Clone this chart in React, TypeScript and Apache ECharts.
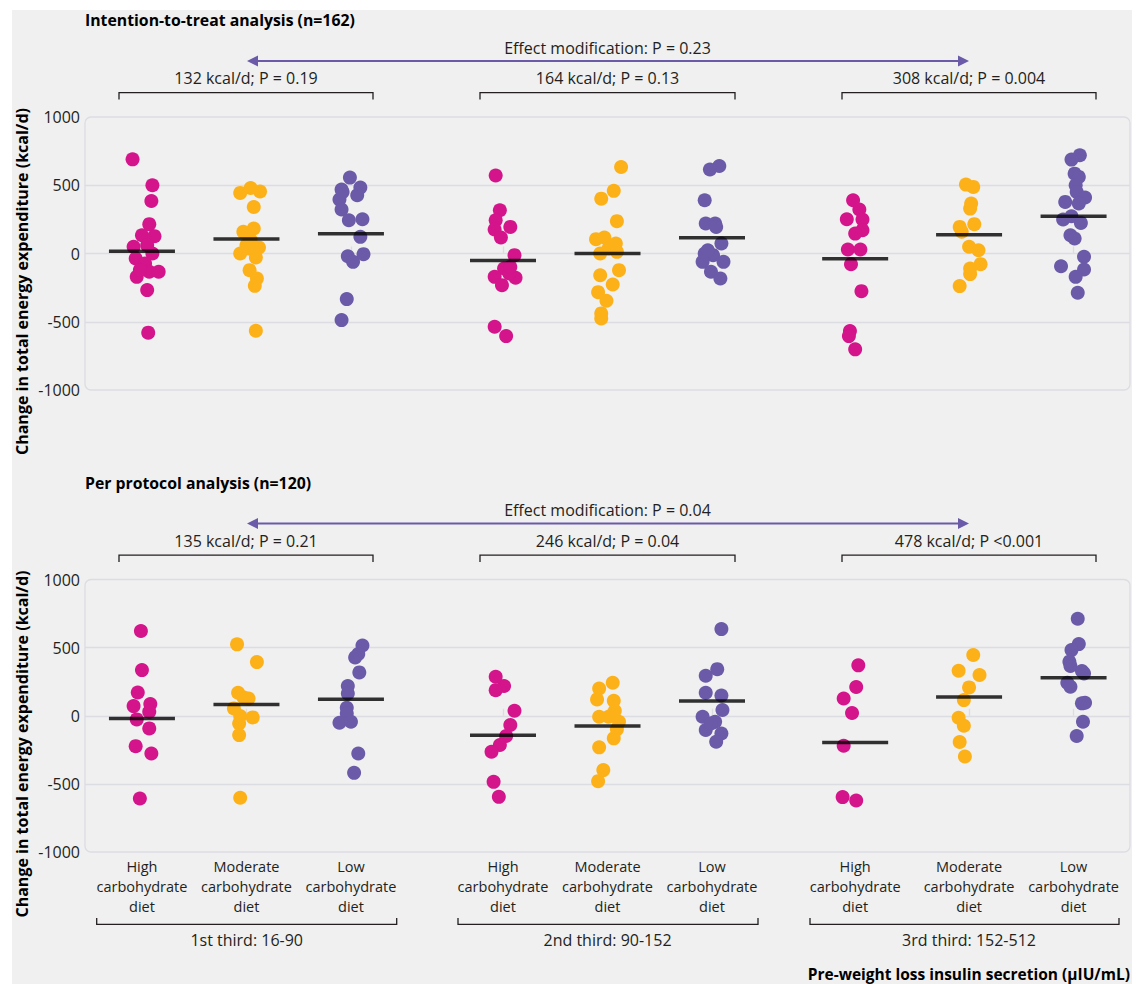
import React, { useEffect, useRef } from "react";
import * as echarts from "echarts";

// ---------- data ----------
const diets = ["High\ncarbohydrate\ndiet", "Moderate\ncarbohydrate\ndiet", "Low\ncarbohydrate\ndiet"];
const thirds = ["1st third: 16-90", "2nd third: 90-152", "3rd third: 152-512"];
// position of each diet slot on the x axis (unit = spacing between diets)
const slotPositions = [0.545, 1.545, 2.545, 4.0, 5.0, 6.0, 7.37, 8.46, 9.46];
const yMin = -1000;
const yMax = 1000;
const yStep = 500;

const titles = ["Intention-to-treat analysis (n=162)", "Per protocol analysis (n=120)"];
const effectTexts = ["Effect modification: P = 0.23", "Effect modification: P = 0.04"];
const ittDiffs = ["132 kcal/d; P = 0.19", "164 kcal/d; P = 0.13", "308 kcal/d; P = 0.004"];
const ppDiffs = ["135 kcal/d; P = 0.21", "246 kcal/d; P = 0.04", "478 kcal/d; P <0.001"];
const yTitle = "Change in total energy expenditure (kcal/d)";
const xTitle = "Pre-weight loss insulin secretion (µIU/mL)";

// [jitter (hundredths of diet spacing), change in TEE kcal/d]
const ittHigh1 = [[-9,690],[10,500],[9,385],[7,215],[0,134],[12,127],[-8,49],[5,61],[10,0],[-6,-37],[3,-73],[-5,-171],[7,-134],[16,-134],[5,-268],[6,-580],[-2,-120]];
const ittMod1 = [[-6,444],[4,480],[13,454],[7,341],[7,183],[-3,159],[4,98],[12,44],[0,61],[-6,0],[9,-29],[3,-122],[10,-183],[8,-237],[9,-566],[2,37]];
const ittLow1 = [[-1,556],[-9,468],[9,483],[6,427],[-11,395],[-9,322],[-2,244],[11,251],[9,122],[12,-5],[-3,-20],[2,-61],[-4,-334],[-9,-488],[-8,450]];
const ittHigh2 = [[-7,571],[-3,317],[-7,244],[-8,176],[7,195],[-2,117],[11,-12],[1,-110],[-8,-171],[12,-178],[-1,-232],[6,-146],[-8,-537],[3,-605],[7,-98]];
const ittMod2 = [[13,634],[6,459],[-6,402],[9,237],[-11,105],[-3,117],[8,73],[-7,0],[9,12],[1,37],[-7,-159],[11,-122],[5,-227],[-9,-283],[-1,-346],[-6,-439],[-6,-476]];
const ittLow2 = [[7,641],[-2,615],[-7,390],[-6,220],[3,220],[4,195],[9,73],[-7,0],[1,-12],[-9,-61],[11,-61],[-1,-134],[8,-183],[-4,24]];
const ittHigh3 = [[-2,390],[4,322],[-8,251],[7,249],[7,171],[0,146],[-7,29],[5,29],[-4,-78],[6,-276],[-5,-568],[-6,-605],[0,-702]];
const ittMod3 = [[-3,505],[4,488],[2,366],[1,329],[5,215],[-9,195],[-7,159],[0,49],[9,24],[11,-78],[1,-110],[1,-151],[-9,-239]];
const ittLow3 = [[6,720],[-2,688],[1,585],[5,561],[2,500],[3,451],[11,410],[-8,378],[5,366],[-10,249],[-2,273],[7,224],[-3,134],[1,110],[10,-24],[-12,-93],[10,-117],[2,-171],[4,-288]];
const ittMeans = [17, 107, 144, -51, 0, 115, -39, 137, 273];

const ppHigh1 = [[-1,622],[0,335],[-4,171],[-8,71],[8,86],[7,29],[-5,-27],[7,-93],[-6,-223],[9,-277],[-2,-607]];
const ppMod1 = [[-9,524],[10,394],[-8,169],[2,127],[-3,135],[-12,54],[6,-12],[-6,-2],[-7,-56],[-7,-142],[-6,-602]];
const ppLow1 = [[11,516],[7,453],[4,428],[8,318],[-3,218],[-3,164],[-4,59],[-4,17],[-11,-51],[0,-44],[7,-277],[3,-419]];
const ppHigh2 = [[-7,286],[1,218],[-7,188],[11,37],[7,-68],[3,-149],[-3,-215],[-11,-264],[-9,-485],[-4,-595]];
const ppMod2 = [[5,242],[-8,200],[-10,120],[6,110],[7,37],[-8,-7],[1,-7],[11,-44],[9,-100],[6,-166],[-8,-232],[-4,-399],[-9,-480]];
const ppLow2 = [[9,636],[5,342],[-6,294],[-6,169],[9,149],[10,42],[-9,-7],[3,-44],[-6,-105],[9,-130],[4,-191],[-1,-56]];
const ppHigh3 = [[3,370],[1,211],[-11,127],[-3,20],[-11,-220],[-12,-597],[1,-622]];
const ppMod3 = [[4,446],[-10,330],[10,299],[0,208],[-5,115],[-10,-15],[-5,-73],[-9,-193],[-4,-299]];
const ppLow3 = [[4,712],[5,526],[-2,482],[-4,397],[-3,365],[8,328],[10,311],[-6,242],[-3,213],[8,91],[11,95],[9,-44],[3,-149]];
const ppMeans = [-20, 83, 122, -144, -76, 108, -196, 137, 279];

const ittGroups = [ittHigh1, ittMod1, ittLow1, ittHigh2, ittMod2, ittLow2, ittHigh3, ittMod3, ittLow3];
const ppGroups = [ppHigh1, ppMod1, ppLow1, ppHigh2, ppMod2, ppLow2, ppHigh3, ppMod3, ppLow3];

// ---------- styles / layout ----------
const dietColors = ["#d4148b", "#fdb119", "#6b5aa8"];
const arrowColor = "#6b5aa8";
const textColor = "#231f20";
const gridLineColor = "#dcdce3";
const FONT = "'Open Sans', 'Noto Sans', sans-serif";
const FS = 16;
const GRID_LEFT = 85;
const GRID_WIDTH = 1045;
const GRID_TOPS = [117, 579.5];
const GRID_HEIGHTS = [273, 272.5];
const PANEL_OFFSET = [0, 462.5];

function App() {
  const ref = useRef<HTMLDivElement>(null);

  useEffect(() => {
    if (!ref.current) return;
    const chart = echarts.init(ref.current, undefined, { renderer: "svg" });

    const panels = [ittGroups, ppGroups];
    const means = [ittMeans, ppMeans];
    const diffs = [ittDiffs, ppDiffs];

    const grids: any[] = [];
    const xAxes: any[] = [];
    const yAxes: any[] = [];
    const series: any[] = [];
    const graphics: any[] = [];

    const centerText = (text: string, x: number, y: number) => ({
      type: "text",
      x,
      y,
      style: {
        text,
        fontSize: FS,
        fontFamily: FONT,
        fill: textColor,
        textAlign: "center",
        textVerticalAlign: "middle",
      },
    });

    panels.forEach((groups, pi) => {
      grids.push({
        left: GRID_LEFT,
        top: GRID_TOPS[pi],
        width: GRID_WIDTH,
        height: GRID_HEIGHTS[pi],
        containLabel: false,
      });
      xAxes.push({
        type: "value",
        gridIndex: pi,
        min: 0,
        max: 10,
        axisLine: { show: false },
        splitLine: { show: false },
        axisTick: {
          show: true,
          inside: true,
          length: 7,
          customValues: slotPositions,
          lineStyle: { color: gridLineColor, width: 1.3 },
        },
        axisLabel: {
          show: pi === 1,
          customValues: slotPositions,
          margin: 5,
          fontSize: 14.5,
          lineHeight: 19.8,
          color: textColor,
          fontFamily: FONT,
          formatter: (v: number) => {
            const idx = slotPositions.findIndex((p) => Math.abs(p - v) < 1e-6);
            return idx >= 0 ? diets[idx % 3] : "";
          },
        },
      });
      yAxes.push({
        type: "value",
        gridIndex: pi,
        min: yMin,
        max: yMax,
        interval: yStep,
        axisLine: { show: false },
        axisTick: { show: false },
        axisLabel: {
          fontSize: 16,
          color: textColor,
          fontFamily: FONT,
          margin: 5,
          formatter: (v: number) => String(v),
        },
        splitLine: {
          show: true,
          showMinLine: false,
          showMaxLine: false,
          lineStyle: { color: gridLineColor, width: 1.3 },
        },
      });

      // points per diet
      [0, 1, 2].forEach((d) => {
        const data: number[][] = [];
        [0, 1, 2].forEach((t) => {
          const slot = t * 3 + d;
          groups[slot].forEach(([j, v]) => data.push([slotPositions[slot] + j / 100, v]));
        });
        series.push({
          type: "scatter",
          xAxisIndex: pi,
          yAxisIndex: pi,
          symbol: "circle",
          symbolSize: 14,
          itemStyle: { color: dietColors[d], opacity: 1 },
          data,
          z: 3,
          silent: true,
        });
      });
      // mean lines
      series.push({
        type: "scatter",
        xAxisIndex: pi,
        yAxisIndex: pi,
        symbol: "rect",
        symbolSize: [66, 3.5],
        itemStyle: { color: "#000000" },
        data: slotPositions.map((p, i) => [p, means[pi][i]]),
        z: 5,
        silent: true,
      });

      const oy = PANEL_OFFSET[pi];
      // rounded plot border
      graphics.push({
        type: "rect",
        shape: { x: GRID_LEFT, y: GRID_TOPS[pi], width: GRID_WIDTH, height: GRID_HEIGHTS[pi], r: 6 },
        style: { fill: "none", stroke: gridLineColor, lineWidth: 1.3 },
        z: 1,
        silent: true,
      });
      // panel title
      graphics.push({
        type: "text",
        x: GRID_LEFT,
        y: 20 + oy,
        style: {
          text: titles[pi],
          fontSize: 15.8,
          fontWeight: "bold",
          fontFamily: FONT,
          fill: "#000",
          textAlign: "left",
          textVerticalAlign: "middle",
        },
      });
      // effect modification arrow
      graphics.push(centerText(effectTexts[pi], 607.5, 47.5 + oy));
      graphics.push({
        type: "line",
        shape: { x1: 256, y1: 61 + oy, x2: 960, y2: 61 + oy },
        style: { stroke: arrowColor, lineWidth: 2.2 },
      });
      graphics.push({
        type: "polygon",
        shape: { points: [[247, 61 + oy], [258, 55.5 + oy], [258, 66.5 + oy]] },
        style: { fill: arrowColor },
      });
      graphics.push({
        type: "polygon",
        shape: { points: [[969, 61 + oy], [958, 55.5 + oy], [958, 66.5 + oy]] },
        style: { fill: arrowColor },
      });
      // difference brackets
      const brackets = [[119, 373], [480, 735], [842, 1096]];
      brackets.forEach(([a, b], t) => {
        graphics.push({
          type: "polyline",
          shape: { points: [[a, 99.5 + oy], [a, 92.7 + oy], [b, 92.7 + oy], [b, 99.5 + oy]] },
          style: { stroke: textColor, lineWidth: 1.3, fill: "none" },
        });
        graphics.push(centerText(diffs[pi][t], (a + b) / 2, 78 + oy));
      });
      // y axis title
      graphics.push({
        type: "text",
        x: 21.5,
        y: 281.5 + oy,
        rotation: Math.PI / 2,
        style: {
          text: yTitle,
          fontSize: 16,
          fontWeight: "bold",
          fontFamily: FONT,
          fill: "#000",
          textAlign: "center",
          textVerticalAlign: "middle",
        },
      });
    });

    // insulin-third brackets under the bottom panel
    const lowBrackets = [[96.7, 396.7, 246.7], [458, 758, 607.5], [810, 1119, 969]];
    lowBrackets.forEach(([a, b, c], t) => {
      graphics.push({
        type: "polyline",
        shape: { points: [[a, 918], [a, 924.3], [b, 924.3], [b, 918]] },
        style: { stroke: textColor, lineWidth: 1.3, fill: "none" },
      });
      graphics.push(centerText(thirds[t], c, 939.5));
    });
    graphics.push({
      type: "text",
      x: 1130,
      y: 973.5,
      style: {
        text: xTitle,
        fontSize: 15.5,
        fontWeight: "bold",
        fontFamily: FONT,
        fill: "#000",
        textAlign: "right",
        textVerticalAlign: "middle",
      },
    });

    chart.setOption({
      animation: false,
      backgroundColor: "transparent",
      grid: grids,
      xAxis: xAxes,
      yAxis: yAxes,
      series,
      graphic: { elements: graphics },
    });

    return () => chart.dispose();
  }, []);

  return (
    <div style={{ position: "fixed", left: 0, top: 0, width: 1146, height: 984, background: "#ffffff" }}>
      <div style={{ position: "absolute", left: 12, top: 10, width: 1120, height: 974, background: "#f0f0f0" }} />
      <div ref={ref} style={{ position: "absolute", left: 0, top: 0, width: 1146, height: 984 }} />
    </div>
  );
}

export default App;
